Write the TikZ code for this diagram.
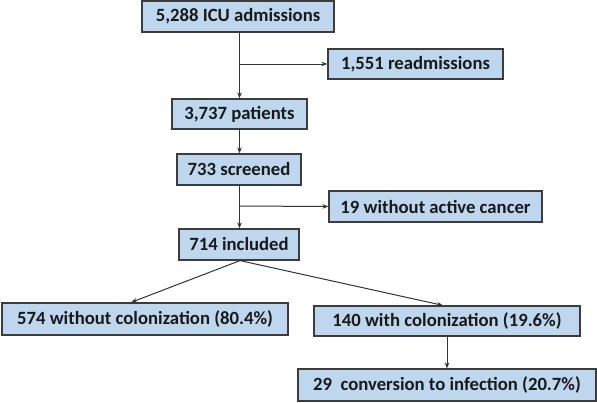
\documentclass[tikz,border=0pt]{standalone}
\usepackage{fontspec}
\setmainfont{Carlito}
\usetikzlibrary{arrows.meta}
\definecolor{boxfill}{RGB}{190,215,238}
\definecolor{boxdraw}{RGB}{60,60,60}
\tikzset{
  box/.style={draw=boxdraw, fill=boxfill, line width=1.2pt, inner sep=0pt,
    font=\fontsize{18.7}{21}\selectfont\bfseries, text=black!90},
  conn/.style={draw=black!80, line width=1pt, -{Stealth[length=6pt,width=4.5pt]}}
}
\begin{document}
\begin{tikzpicture}[x=1pt,y=-1pt]
\useasboundingbox (0,0) rectangle (597,402);
\node (icu) [box, minimum width=192pt, minimum height=31pt] at (238,16.5) {5,288 ICU admissions};
\node (readm) [box, minimum width=175pt, minimum height=30pt] at (415.5,64) {1,551 readmissions};
\node (pat) [box, minimum width=135pt, minimum height=30pt] at (239.5,114) {3,737 patients};
\node (scr) [box, minimum width=124pt, minimum height=31pt] at (239,169.5) {733 screened};
\node (wo) [box, minimum width=213pt, minimum height=31pt] at (435.5,206.5) {19 without active cancer};
\node (inc) [box, minimum width=120pt, minimum height=31pt] at (239,244.5) {714 included};
\node (nocol) [box, minimum width=286pt, minimum height=32pt] at (145,319) {574 without colonization (80.4\%)};
\node (col) [box, minimum width=266pt, minimum height=30pt] at (447,321) {140 with colonization (19.6\%)};
\node (inf) [box, minimum width=298pt, minimum height=32pt] at (447,385) {29\ \ conversion to infection (20.7\%)};
\coordinate (b1) at (239.5,64);
\coordinate (b2) at (239.5,206);
\coordinate (s) at (240,260);
\draw[conn] (icu.south -| b1) -- (pat.north -| b1);
\draw[conn] (b1) -- (readm.west);
\draw[conn] (pat.south -| b2) -- (scr.north -| b2);
\draw[conn] (scr.south -| b2) -- (inc.north -| b2);
\draw[conn] (b2) -- (wo.west);
\draw[conn] (inc.south -| s) -- (nocol.north -| 131,0);
\draw[conn] (inc.south -| s) -- (col.north -| 443,0);
\draw[conn] (col.south) -- (inf.north);
\end{tikzpicture}
\end{document}
